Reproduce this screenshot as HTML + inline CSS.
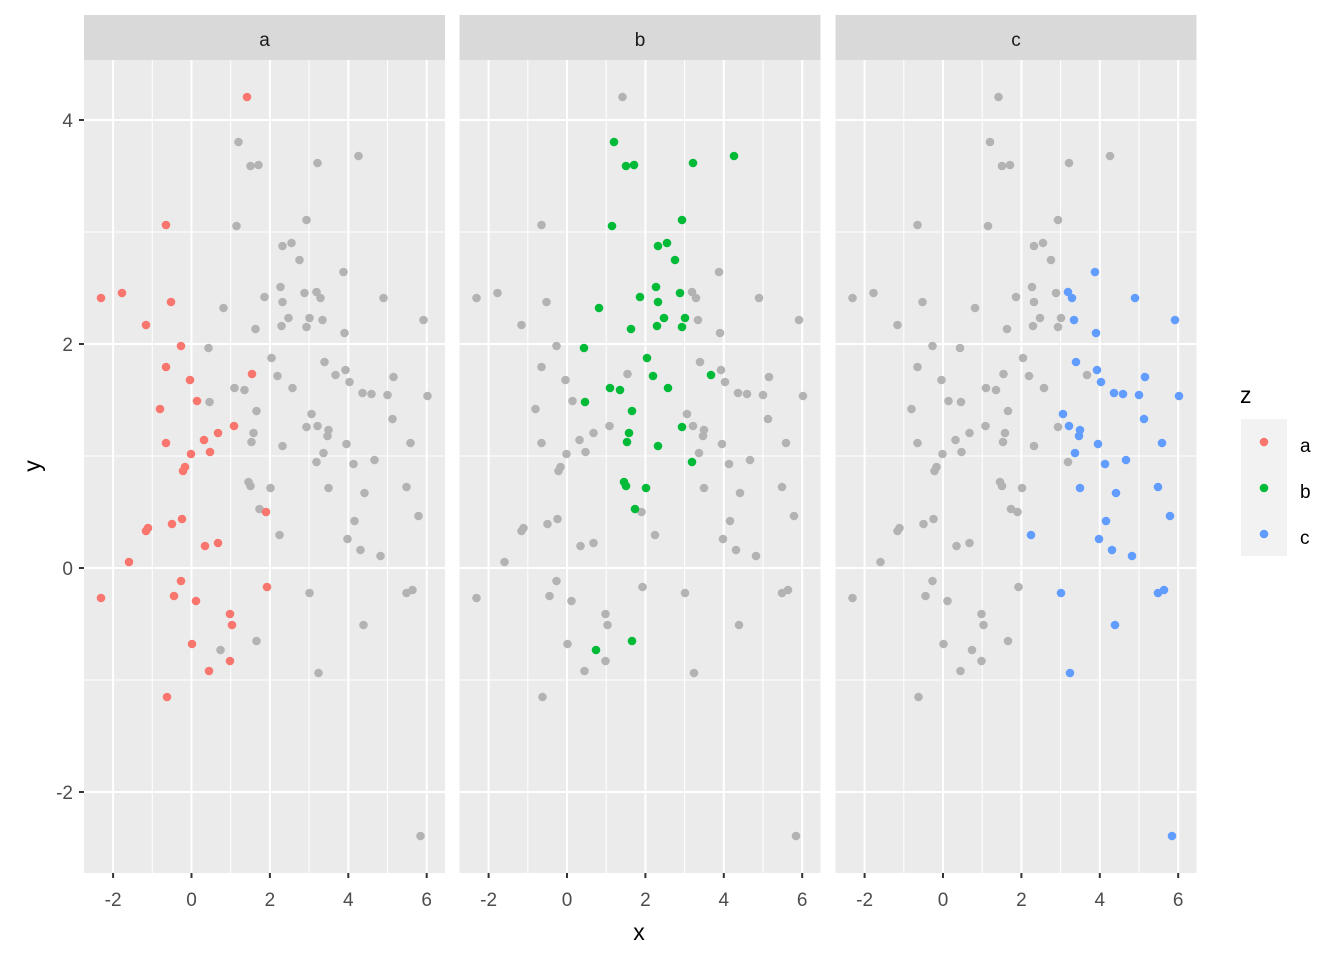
<!DOCTYPE html>
<html><head><meta charset="utf-8"><style>
html,body{margin:0;padding:0;background:#fff;}
svg text{font-family:"Liberation Sans",Arial,sans-serif;}
</style></head><body>
<svg id="s" width="1344" height="960" xmlns="http://www.w3.org/2000/svg">
<rect width="1344" height="960" fill="#fff"/>
<g id="g"></g>
<text x="639" y="940" font-size="23" text-anchor="middle" fill="#000">x</text>
<text transform="translate(40,466) rotate(-90)" font-size="23" text-anchor="middle" fill="#000">y</text>
<text x="1240" y="403" font-size="23" fill="#000">z</text>
<rect x="1241" y="419" width="46" height="137" fill="#f2f2f2"/>
<circle cx="1264" cy="442" r="4.3" fill="#F8766D"/>
<circle cx="1264" cy="488" r="4.3" fill="#00BA38"/>
<circle cx="1264" cy="534" r="4.3" fill="#619CFF"/>
<text x="1300" y="452" font-size="19" fill="#000">a</text>
<text x="1300" y="498" font-size="19" fill="#000">b</text>
<text x="1300" y="544" font-size="19" fill="#000">c</text>
</svg>
<script>
var red=[[101,598],[101,298],[122,293],[146,325],[129,562],[146,531],[148,528],[160,409],[166,225],[166,367],[166,443],[167,697],[171,302],[172,524],[174,596],[181,346],[181,581],[182,519],[183,471],[185,467],[190,380],[191,454],[192,644],[196,601],[197,401],[204,440],[205,546],[210,452],[209,671],[218,433],[218,543],[230,614],[230,661],[232,625],[234,426],[247,97],[252,374],[266,512],[267,587]];
var green=[[614,142],[612,226],[626,166],[634,165],[693,163],[734,156],[682,220],[658,246],[667,243],[675,260],[656,287],[599,308],[640,297],[658,302],[631,329],[664,318],[657,326],[680,293],[685,318],[682,327],[584,348],[647,358],[653,376],[711,375],[610,388],[620,390],[668,388],[585,402],[632,411],[629,433],[627,442],[658,446],[682,427],[692,462],[624,482],[626,486],[646,488],[635,509],[596,650],[632,641]].map(function(p){return [p[0]-375.5,p[1]];});
var blue=[[1095,272],[1135,298],[1068,292],[1072,298],[1074,320],[1175,320],[1096,333],[1076,362],[1097,370],[1145,377],[1101,382],[1139,395],[1114,393],[1123,394],[1179,396],[1063,414],[1144,419],[1069,426],[1080,430],[1079,436],[1098,444],[1162,443],[1075,453],[1126,460],[1105,464],[1158,487],[1080,488],[1116,493],[1170,516],[1106,521],[1031,535],[1099,539],[1112,550],[1132,556],[1164,590],[1158,593],[1061,593],[1115,625],[1070,673],[1172,836]].map(function(p){return [p[0]-751.5,p[1]];});
var groups=[red,green,blue],cols=["#F8766D","#00BA38","#619CFF"],labs=["a","b","c"];
var offs=[0,375.5,751.5],h="";
for(var k=0;k<3;k++){
 var o=offs[k],L=84+o,R=445+o;
 h+='<rect x="'+L+'" y="15" width="'+(R-L)+'" height="45" fill="#d9d9d9"/>';
 h+='<text x="'+((L+R)/2)+'" y="46" font-size="19" text-anchor="middle" fill="#1a1a1a">'+labs[k]+'</text>';
 h+='<rect x="'+L+'" y="60" width="'+(R-L)+'" height="813" fill="#ebebeb"/>';
 [232,456,680].forEach(function(y){h+='<line x1="'+L+'" x2="'+R+'" y1="'+y+'" y2="'+y+'" stroke="#fff" stroke-width="1"/>';});
 [-1,1,3,5].forEach(function(v){var x=191.5+39.2*v+o;h+='<line x1="'+x+'" x2="'+x+'" y1="60" y2="873" stroke="#fff" stroke-width="1"/>';});
 [120,344,568,792].forEach(function(y){h+='<line x1="'+L+'" x2="'+R+'" y1="'+y+'" y2="'+y+'" stroke="#fff" stroke-width="2"/>';});
 [-2,0,2,4,6].forEach(function(v){var x=191.5+39.2*v+o;h+='<line x1="'+x+'" x2="'+x+'" y1="60" y2="873" stroke="#fff" stroke-width="2"/>';
  h+='<line x1="'+x+'" x2="'+x+'" y1="873" y2="878" stroke="#333" stroke-width="2"/>';
  h+='<text x="'+x+'" y="906" font-size="19" text-anchor="middle" fill="#4d4d4d">'+(v<0?'-'+(-v):v)+'</text>';});
 for(var j=0;j<3;j++){if(j==k)continue;groups[j].forEach(function(p){h+='<circle cx="'+(p[0]+o)+'" cy="'+p[1]+'" r="4.3" fill="#B3B3B3"/>';});}
 groups[k].forEach(function(p){h+='<circle cx="'+(p[0]+o)+'" cy="'+p[1]+'" r="4.3" fill="'+cols[k]+'"/>';});
}
[[120,"4"],[344,"2"],[568,"0"],[792,"-2"]].forEach(function(t){h+='<line x1="79" x2="84" y1="'+t[0]+'" y2="'+t[0]+'" stroke="#333" stroke-width="2"/>';
 h+='<text x="73" y="'+(t[0]+7)+'" font-size="19" text-anchor="end" fill="#4d4d4d">'+t[1]+'</text>';});
document.getElementById("g").innerHTML=h;
</script>
</body></html>
